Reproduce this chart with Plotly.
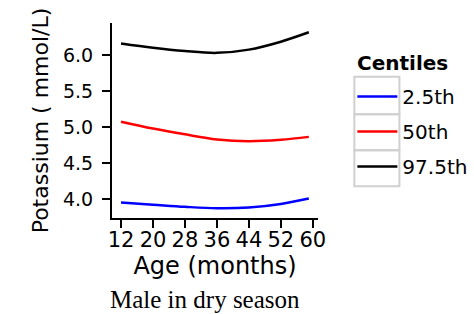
import plotly.graph_objects as go

age = [12, 20, 28, 36, 44, 52, 59]
p025 = [3.955, 3.925, 3.895, 3.875, 3.885, 3.935, 4.01]
p50 = [5.075, 4.98, 4.90, 4.83, 4.805, 4.825, 4.865]
p975 = [6.16, 6.10, 6.055, 6.03, 6.075, 6.185, 6.315]
series_names = ["2.5th", "50th", "97.5th"]
series_colors = ["#0000FF", "#FF0000", "#000000"]
x_ticks = [12, 20, 28, 36, 44, 52, 60]
y_ticks = [4.0, 4.5, 5.0, 5.5, 6.0]

W, H = 474, 314
L, R, T, B = 112, 317.7, 23, 217.7

def px(x):
    return (x - L) / (R - L)

def py(y):
    return (B - y) / (B - T)

fig = go.Figure()
for i, (name, vals, col) in enumerate(zip(series_names, [p025, p50, p975], series_colors)):
    fig.add_trace(go.Scatter(x=age, y=vals, mode="lines", name=name,
                             line=dict(color=col, width=2.5, shape="spline"),
                             legendgroup=name))

sans = "DejaVu Sans"
fig.update_layout(
    width=W, height=H,
    margin=dict(l=L, r=W - R, t=T, b=H - B, pad=0, autoexpand=False),
    paper_bgcolor="white", plot_bgcolor="white",
    font=dict(family=sans, color="black"),
    showlegend=True,
    legend=dict(
        font=dict(family=sans, size=20),
        x=px(352), y=py(77), xanchor="left", yanchor="top",
        itemwidth=40, tracegroupgap=6, traceorder="grouped",
        bgcolor="rgba(0,0,0,0)",
    ),
    xaxis=dict(
        range=[9.74, 61.3], tickvals=x_ticks, ticktext=[str(v) for v in x_ticks],
        showline=True, linecolor="black", linewidth=2, showgrid=False, zeroline=False,
        ticks="outside", ticklen=8, tickwidth=2, tickcolor="black",
        tickfont=dict(family=sans, size=21), ticklabelstandoff=-6, automargin=False,
        title=dict(text="Age (months)", font=dict(family=sans, size=24), standoff=0),
    ),
    yaxis=dict(
        range=[3.74, 6.444], tickvals=y_ticks, ticktext=[f"{v:.1f}" for v in y_ticks],
        showline=True, linecolor="black", linewidth=2, showgrid=False, zeroline=False,
        ticks="outside", ticklen=8, tickwidth=2, tickcolor="black",
        tickfont=dict(family=sans, size=19), ticklabelstandoff=5, automargin=False,
        title=dict(text="Potassium ( mmol/L)", font=dict(family=sans, size=22), standoff=8),
    ),
)

# legend key boxes (ggplot style)
for y0, y1 in [(76.7, 114), (114, 150), (150, 186)]:
    fig.add_shape(type="rect", xref="paper", yref="paper",
                  x0=px(354), x1=px(399), y0=py(y1), y1=py(y0),
                  line=dict(color="#d0d0d0", width=2), fillcolor="rgba(0,0,0,0)", layer="below")

fig.add_annotation(text="<b>Centiles</b>", xref="paper", yref="paper",
                   x=px(355), y=py(62.7), xanchor="left", yanchor="middle",
                   showarrow=False, font=dict(family=sans, size=20, color="black"))

fig.add_annotation(text="Male in dry season", xref="paper", yref="paper",
                   x=px(205), y=py(299), xanchor="center", yanchor="middle",
                   showarrow=False, font=dict(family="Liberation Serif", size=25, color="black"))

fig.write_html("out.html", post_script="document.body.style.margin='0';",
               config={"displayModeBar": False})
